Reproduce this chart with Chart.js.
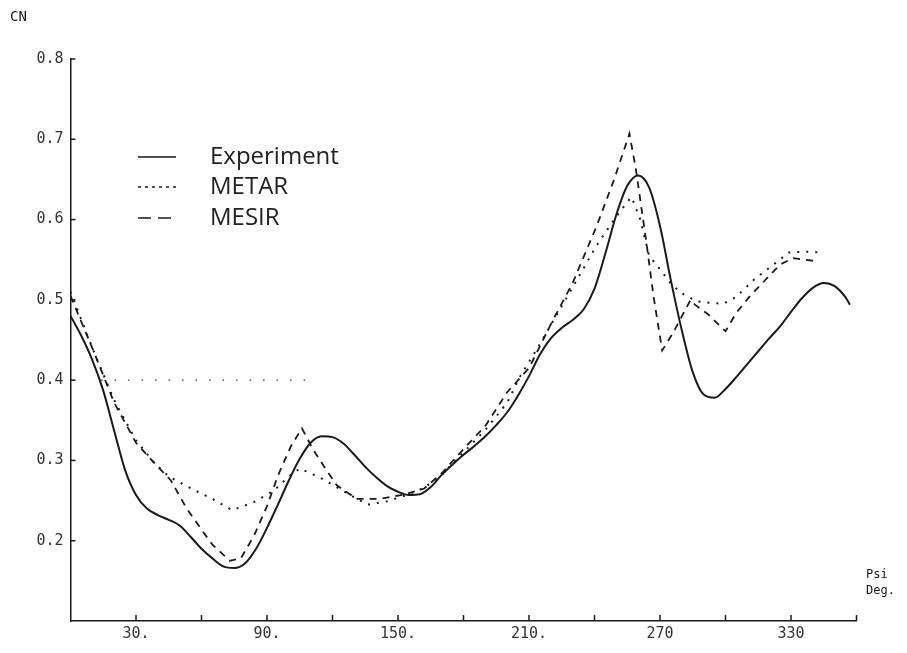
<!DOCTYPE html>
<html>
<head>
<meta charset="utf-8">
<script src="https://cdn.jsdelivr.net/npm/chart.js@4.4.0/dist/chart.umd.min.js"></script>
<style>
  html, body { margin: 0; padding: 0; background: #fff; }
  canvas { display: block; }
</style>
</head>
<body>
<canvas id="cn" width="907" height="653"></canvas>
<script>
// Normal force coefficient CN against roll angle Psi (deg)
const expDeg = [0, 5, 10, 15, 20, 25, 30, 35, 40, 45, 50, 55, 60, 65, 70, 75, 80, 85, 90, 95,
  100, 105, 110, 115, 120, 125, 130, 135, 140, 145, 150, 155, 160, 165, 170, 175, 180, 185, 190, 195,
  200, 205, 210, 215, 220, 225, 230, 235, 240, 245, 250, 255, 260, 265, 270, 275, 280, 285, 290, 295,
  300, 305, 310, 315, 320, 325, 330, 335, 340, 345, 350, 355, 357];
const expCN = [0.48, 0.455, 0.425, 0.387, 0.337, 0.288, 0.257, 0.24, 0.232, 0.226, 0.219, 0.205, 0.19, 0.178, 0.168, 0.166, 0.172, 0.19, 0.216, 0.245,
  0.275, 0.302, 0.322, 0.33, 0.329, 0.321, 0.307, 0.292, 0.279, 0.268, 0.261, 0.257, 0.258, 0.267, 0.282, 0.295, 0.307, 0.318, 0.33, 0.344,
  0.36, 0.381, 0.405, 0.432, 0.452, 0.465, 0.475, 0.488, 0.514, 0.558, 0.606, 0.642, 0.655, 0.64, 0.592, 0.524, 0.462, 0.41, 0.382, 0.378,
  0.389, 0.404, 0.42, 0.436, 0.452, 0.467, 0.485, 0.502, 0.515, 0.521, 0.517, 0.503, 0.494];

const metarDeg = [0, 10, 20, 30, 38, 45, 56, 65, 74, 84, 93, 100, 105, 114, 123, 130, 136, 145, 154, 162,
  170, 180, 190, 200, 206, 215, 223, 232, 241, 249, 255, 257, 261, 265, 270, 275, 280, 287, 294, 299,
  305, 313, 322, 329, 337, 344];
const metarCN = [0.51, 0.44, 0.375, 0.325, 0.298, 0.28, 0.264, 0.252, 0.238, 0.248, 0.262, 0.28, 0.29, 0.279, 0.265, 0.254, 0.245, 0.249, 0.257, 0.266,
  0.282, 0.31, 0.338, 0.372, 0.405, 0.445, 0.483, 0.525, 0.568, 0.6, 0.622, 0.628, 0.6, 0.555, 0.538, 0.52, 0.508, 0.498, 0.496, 0.495,
  0.504, 0.525, 0.544, 0.559, 0.56, 0.559];

const mesirDeg = [0, 10, 20, 30, 38, 46, 53, 61, 65, 73, 78, 84, 90, 95, 101, 106, 111, 116, 122, 131,
  141, 152, 162, 170, 180, 190, 200, 210, 221, 230, 241, 249, 256, 259, 264, 267, 271, 276, 284, 286,
  292, 300, 305, 311, 319, 325, 331, 342];
const mesirCN = [0.505, 0.44, 0.372, 0.322, 0.298, 0.275, 0.241, 0.21, 0.195, 0.175, 0.178, 0.206, 0.243, 0.281, 0.318, 0.34, 0.314, 0.293, 0.269, 0.252,
  0.252, 0.257, 0.265, 0.284, 0.314, 0.343, 0.385, 0.415, 0.475, 0.521, 0.592, 0.65, 0.707, 0.662, 0.567, 0.505, 0.437, 0.459, 0.5, 0.494,
  0.482, 0.461, 0.484, 0.504, 0.527, 0.544, 0.552, 0.548];

// faint partial dotted line at CN = 0.4 on the original plot
const guideDeg = [14, 112];
const guideCN = [0.4, 0.4];

const xLabels = { 30: '30.', 90: '90.', 150: '150.', 210: '210.', 270: '270', 330: '330' };

const ink = '#1a1a1a';
const mono = '"DejaVu Sans Mono", monospace';

function toPoints(xs, ys) {
  return xs.map((x, i) => ({ x: x, y: ys[i] }));
}

const plotDecor = {
  id: 'plotDecor',
  afterDraw(chart) {
    const { ctx, chartArea: a, scales: { x, y } } = chart;
    ctx.save();
    ctx.strokeStyle = ink;
    ctx.lineWidth = 1.5;
    // tick marks point into the plot
    for (let d = 30; d <= 360; d += 30) {
      const px = x.getPixelForValue(d);
      ctx.beginPath();
      ctx.moveTo(px, a.bottom);
      ctx.lineTo(px, a.bottom - 6);
      ctx.stroke();
    }
    for (let i = 2; i <= 8; i++) {
      const py = y.getPixelForValue(i / 10);
      ctx.beginPath();
      ctx.moveTo(a.left, py);
      ctx.lineTo(a.left + 5, py);
      ctx.stroke();
    }

    ctx.fillStyle = ink;
    ctx.textAlign = 'left';
    ctx.textBaseline = 'middle';
    ctx.font = '14px ' + mono;
    ctx.fillText('CN', 10, 17);
    ctx.font = '12px ' + mono;
    ctx.fillText('Psi', 866, 575);
    ctx.fillText('Deg.', 866, 591);

    // legend
    const rows = [157, 187, 218];
    let r = 0;
    chart.data.datasets.forEach(ds => {
      if (!ds.legendDash) return;
      const ly = rows[r++];
      ctx.setLineDash(ds.legendDash);
      ctx.lineWidth = 1.6;
      ctx.beginPath();
      ctx.moveTo(138, ly);
      ctx.lineTo(176, ly);
      ctx.stroke();
      ctx.setLineDash([]);
      ctx.font = '24px "Open Sans", sans-serif';
      ctx.fillStyle = '#222';
      ctx.fillText(ds.label, 210, ly);
    });
    ctx.restore();
  }
};

new Chart(document.getElementById('cn'), {
  type: 'line',
  data: {
    datasets: [
      {
        label: 'Experiment',
        data: toPoints(expDeg, expCN),
        borderColor: ink,
        borderWidth: 2,
        cubicInterpolationMode: 'monotone',
        pointRadius: 0,
        legendDash: [1, 0]
      },
      {
        label: 'METAR',
        data: toPoints(metarDeg, metarCN),
        borderColor: ink,
        borderWidth: 2,
        borderDash: [2, 7],
        tension: 0,
        pointRadius: 0,
        legendDash: [3, 4]
      },
      {
        label: 'MESIR',
        data: toPoints(mesirDeg, mesirCN),
        borderColor: ink,
        borderWidth: 1.8,
        borderDash: [7, 6],
        tension: 0,
        pointRadius: 0,
        legendDash: [13, 7]
      },
      {
        label: 'guide',
        data: toPoints(guideDeg, guideCN),
        borderColor: '#555',
        borderWidth: 1.5,
        borderDash: [1.5, 12],
        pointRadius: 0
      }
    ]
  },
  options: {
    responsive: false,
    animation: false,
    events: [],
    layout: { padding: { left: 0, top: 59, right: 50.5, bottom: 0 } },
    plugins: {
      legend: { display: false },
      tooltip: { enabled: false }
    },
    scales: {
      x: {
        type: 'linear',
        min: 0,
        max: 360,
        afterFit(s) { s.height = 32; },
        grid: { display: false, drawTicks: false, tickLength: 0 },
        border: { display: true, color: ink, width: 1.5 },
        ticks: {
          stepSize: 30,
          autoSkip: false,
          maxRotation: 0,
          padding: 4,
          color: '#333',
          font: { family: mono, size: 15 },
          callback: v => xLabels[v] || ''
        }
      },
      y: {
        min: 0.1,
        max: 0.8,
        afterFit(s) { s.width = 70.5; },
        grid: { display: false, drawTicks: false, tickLength: 0 },
        border: { display: true, color: ink, width: 1.5 },
        ticks: {
          stepSize: 0.1,
          padding: 7,
          color: '#333',
          font: { family: mono, size: 15 },
          callback: v => (Math.abs(v - 0.1) < 1e-6 ? '' : v.toFixed(1))
        }
      }
    }
  },
  plugins: [plotDecor]
});
</script>
</body>
</html>
